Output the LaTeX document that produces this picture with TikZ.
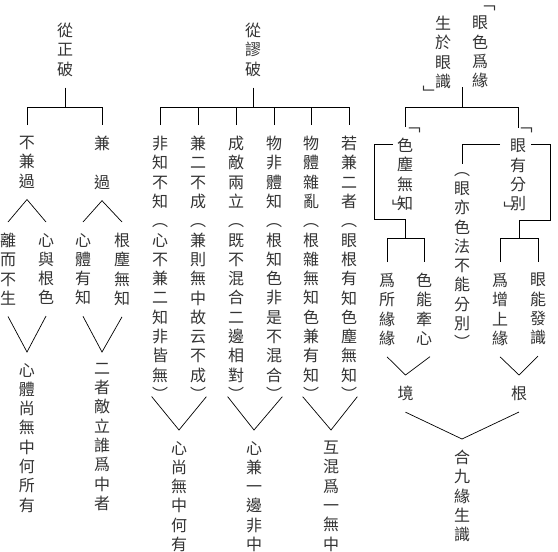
\documentclass[tikz,border=0pt]{standalone}
\usepackage{fontspec}
\newfontfamily\cjk{Noto Sans CJK TC}
\begin{document}
\begin{tikzpicture}[x=1pt,y=-1pt,line width=0.7pt,
    col/.style={font=\cjk\fontsize{16}{19.3}\selectfont, text=black!80, align=center,
      inner xsep=0pt, inner ysep=10.8pt, anchor=north},
    brk/.style={font=\cjk\fontsize{16}{19.3}\selectfont, text=black!80, inner sep=0pt}]
    \useasboundingbox (0,0) rectangle (558,552);
    \coordinate (fl) at (0,107);
    % left: from the right view
    \node[col] (zp) at (65,12) {從\\正\\破};
    \node[col] (bj) at (27,125) {不\\兼\\過};
    \node[col] (jg) at (102,125) {兼\\　\\過};
    \node[col] (lq) at (8,222) {離\\而\\不\\生};
    \node[col] (xy) at (46,222) {心\\與\\根\\色};
    \node[col] (xt) at (83,222) {心\\體\\有\\知};
    \node[col] (gc) at (122,222) {根\\塵\\無\\知};
    \node[col] (xs) at (27,352) {心\\體\\尚\\無\\中\\何\\所\\有};
    \node[col] (ez) at (102,352) {二\\者\\敵\\立\\誰\\爲\\中\\者};
    \draw (zp.south) -- (zp.south |- fl);
    \draw (bj.north) |- (jg.north |- fl) -- (jg.north);
    \draw (lq.north) -- (bj.south) -- (xy.north);
    \draw (xt.north) -- (jg.south) -- (gc.north);
    \draw (lq.south) -- (xs.north) -- (xy.south);
    \draw (xt.south) -- (ez.north) -- (gc.south);
    % middle: from the wrong views
    \node[col] (zm) at (253,12) {從\\謬\\破};
    \node[col] (m1) at (160,125) {非\\知\\不\\知\\︵\\心\\不\\兼\\二\\知\\非\\皆\\無\\︶};
    \node[col] (m2) at (198,125) {兼\\二\\不\\成\\︵\\兼\\則\\無\\中\\故\\云\\不\\成\\︶};
    \node[col] (m3) at (236,125) {成\\敵\\兩\\立\\︵\\既\\不\\混\\合\\二\\邊\\相\\對\\︶};
    \node[col] (m4) at (274,125) {物\\非\\體\\知\\︵\\根\\知\\色\\非\\是\\不\\混\\合\\︶};
    \node[col] (m5) at (311,125) {物\\體\\雜\\亂\\︵\\根\\雜\\無\\知\\色\\兼\\有\\知\\︶};
    \node[col] (m6) at (349,125) {若\\兼\\二\\者\\︵\\眼\\根\\有\\知\\色\\塵\\無\\知\\︶};
    \node[col] (r1) at (179,430) {心\\尚\\無\\中\\何\\有};
    \node[col] (r2) at (254,430) {心\\兼\\一\\邊\\非\\中};
    \node[col] (r3) at (331,430) {互\\混\\爲\\一\\無\\中};
    \draw (zm.south) -- (zm.south |- fl);
    \draw (m1.north) |- (m6.north |- fl) -- (m6.north);
    \foreach \m in {m2,m3,m4,m5}
        \draw (\m.north) -- (\m.north |- fl);
    \draw ([yshift=15pt]m1.south west) -- (r1.north) -- ([yshift=15pt]m2.south east);
    \draw ([yshift=15pt]m3.south west) -- (r2.north) -- ([yshift=15pt]m4.south east);
    \draw ([yshift=15pt]m5.south west) -- (r3.north) -- ([yshift=15pt]m6.south east);
    % right: eye and colour as conditions
    \node[col] (yn) at (480,5) {眼\\色\\爲\\緣};
    \node[col] (sy) at (443,5) {生\\於\\眼\\識};
    \node[brk] (q1) at (487.5,8.5) {﹁};
    \node[brk] (q2) at (430.5,92.5) {﹂};
    \coordinate (ys) at (462,87);
    \draw (ys) -- (ys |- fl);
    \node[col] (sc) at (405,127) {色\\塵\\無\\知};
    \node[col] (yf) at (518,128) {眼\\有\\分\\別};
    \node[brk] (q3) at (412.5,130) {﹁};
    \node[brk] (q4) at (524.5,130) {﹁};
    \node[brk] (q5) at (400,207) {﹂};
    \node[brk] (q6) at (511.5,208.5) {﹂};
    \node[col,anchor=center] (pm) at (462,260.5) {︵\\眼\\亦\\色\\法\\不\\能\\分\\別\\︶};
    \draw (sc.north) |- (yf.north |- fl) -- (yf.north);
    \draw (393,144) -| (374,219) -| (405.5,238);
    \draw (500,144) -| (462,164);
    \draw (531,144) -| (550,220) -| (519,238);
    \coordinate (fw) at (0,238);
    \node[col] (w1) at (387,262) {爲\\所\\緣\\緣};
    \node[col] (w2) at (424,262) {色\\能\\牽\\心};
    \node[col] (w3) at (500,262) {爲\\增\\上\\緣};
    \node[col] (w4) at (538,262) {眼\\能\\發\\識};
    \draw (w1.north) |- (w2.north |- fw) -- (w2.north);
    \draw (w3.north) |- (w4.north |- fw) -- (w4.north);
    \node[col] (jing) at (405.5,375) {境};
    \node[col] (gen) at (519,375) {根};
    \draw (w1.south) -- (jing.north) -- ([xshift=6pt]w2.south);
    \draw (w3.south) -- (gen.north) -- (w4.south);
    \node[col] (hj) at (462,439) {合\\九\\緣\\生\\識};
    \draw (jing.south) -- (hj.north) -- (gen.south);
\end{tikzpicture}
\end{document}
